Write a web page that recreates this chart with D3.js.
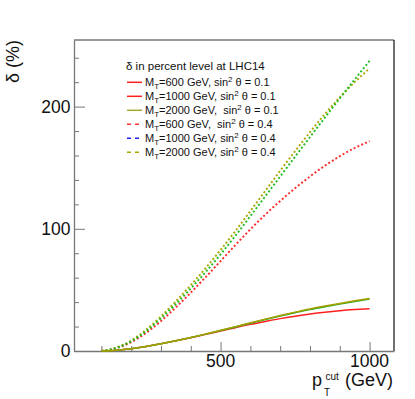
<!DOCTYPE html>
<html>
<head>
<meta charset="utf-8">
<script src="https://cdn.jsdelivr.net/npm/d3@7"></script>
<style>
body { margin: 0; background: #fff; }
text { font-family: "Liberation Sans", Arial, sans-serif; fill: #111; white-space: pre; }
</style>
</head>
<body>
<div id="chart"></div>
<script>
// pT cut values (GeV)
var ptCut = [100,150,200,250,300,350,400,450,500,550,600,650,700,750,800,850,900,950,1000];

// delta (%) , sin^2 theta = 0.1
var mt600s01  = [0,0.7,1.9,3.7,5.9,8.3,10.9,13.6,16.3,19.1,21.8,24.2,26.5,28.5,30.3,31.8,33.0,33.9,34.6];
var mt1000s01 = [0,0.7,1.9,3.7,5.9,8.4,11.0,13.8,16.7,19.7,22.75,25.75,28.65,31.35,33.95,36.25,38.45,40.55,42.55];
var mt2000s01 = [0,0.7,1.9,3.7,5.9,8.4,11.0,13.9,16.9,19.95,23.05,26.1,29.05,31.8,34.4,36.75,38.95,41.05,43.05];

// delta (%) , sin^2 theta = 0.4
var mt600s04  = [0,2.3,7.2,14.8,24.5,35.7,47.8,60.5,73.6,86.8,99.6,111.6,122.8,133.2,142.8,151.6,159.4,166.1,171.7];
var mt1000s04 = [0,2.5,8,16.2,26.7,38.5,51.2,64.7,79.1,94.4,110.4,126.6,142.8,159,175.1,191,206.7,222.2,237.5];
var mt2000s04 = [0,2.7,8.6,17.3,28.3,40.7,53.9,67.9,82.7,98.3,114.5,131,147.5,163.5,179.1,193.9,207.6,220,231.3];

var xTicksMajor = [500, 1000];
var yTicksMajor = [0, 100, 200];

var legendMass = ['600', '1000', '2000', '600', '1000', '2000'];
var legendSin  = ['0.1', '0.1', '0.1', '0.4', '0.4', '0.4'];

var width = 415, height = 399;
var padL = 74, padR = 394, padT = 40, padB = 351;

var x = d3.scaleLinear().domain([8, 1082]).range([padL, padR]);
var y = d3.scaleLinear().domain([0, 254.5]).range([padB, padT]);

var svg = d3.select('#chart').append('svg')
  .attr('width', width)
  .attr('height', height);

// frame
svg.append('line').attr('x1', padL).attr('x2', padR).attr('y1', padT).attr('y2', padT)
  .attr('stroke', '#777').attr('stroke-width', 1.3);
svg.append('line').attr('x1', padR).attr('x2', padR).attr('y1', padT).attr('y2', padB)
  .attr('stroke', '#222').attr('stroke-width', 1.3);

// axes, ticks pointing inward
var xAxis = d3.axisTop(x).tickValues(d3.range(100, 1001, 100)).tickSize(5).tickFormat('').tickSizeOuter(0);
var gx = svg.append('g').attr('transform', 'translate(0,' + padB + ')').call(xAxis);
gx.selectAll('.tick line').attr('y2', function(d) { return xTicksMajor.indexOf(d) >= 0 ? -9 : -5; });
var yAxis = d3.axisRight(y).tickValues(d3.range(0, 241, 20)).tickSize(5).tickFormat('').tickSizeOuter(0);
var gy = svg.append('g').attr('transform', 'translate(' + padL + ',0)').call(yAxis);
gy.selectAll('.tick line').attr('x2', function(d) { return yTicksMajor.indexOf(d) >= 0 ? 11 : 5; });
svg.selectAll('.domain').attr('stroke', '#777').attr('stroke-width', 1.3);
svg.selectAll('.tick line').attr('stroke', '#777').attr('stroke-width', 1);

// tick labels
svg.selectAll('.xlab').data(xTicksMajor).enter().append('text')
  .attr('x', function(d) { return x(d); })
  .attr('y', 367)
  .attr('text-anchor', 'middle')
  .style('font-size', '17.5px')
  .text(function(d) { return d; });
svg.selectAll('.ylab').data(yTicksMajor).enter().append('text')
  .attr('x', 70.5)
  .attr('y', function(d) { return y(d) + 6.3; })
  .attr('text-anchor', 'end')
  .style('font-size', '17.5px')
  .text(function(d) { return d; });

// axis titles
svg.append('text')
  .attr('transform', 'translate(19,40) rotate(-90)')
  .attr('text-anchor', 'end')
  .style('font-size', '18px')
  .text('\u03b4 (%)');
svg.append('text').attr('x', 312).attr('y', 386).style('font-size', '18px').text('p');
svg.append('text').attr('x', 325.5).attr('y', 380).style('font-size', '10px').text('cut');
svg.append('text').attr('x', 324).attr('y', 396).style('font-size', '10px').text('T');
svg.append('text').attr('x', 393).attr('y', 386).attr('text-anchor', 'end')
  .style('font-size', '18px').text('(GeV)');

// curves
var series = [
  { v: mt600s04,  color: '#ff2a2a', dash: '2,2.2' },
  { v: mt2000s04, color: '#a8a800', dash: '2,2.2' },
  { v: mt1000s04, color: '#22bb22', dash: '2,2.2' },
  { v: mt600s01,  color: '#ff2020', dash: null },
  { v: mt1000s01, color: '#22aa22', dash: null },
  { v: mt2000s01, color: '#a8a000', dash: null }
];

var line = d3.line()
  .x(function(d, i) { return x(ptCut[i]); })
  .y(function(d) { return y(d); })
  .curve(d3.curveMonotoneX);

svg.selectAll('.curve').data(series).enter().append('path')
  .attr('d', function(s) { return line(s.v); })
  .attr('fill', 'none')
  .attr('stroke', function(s) { return s.color; })
  .attr('stroke-width', function(s) { return s.dash ? 1.9 : 1.5; })
  .attr('stroke-dasharray', function(s) { return s.dash; });

// legend
var legColors = ['#ff2020', '#ff2020', '#a8a830', '#ff3030', '#2020ff', '#a8a800'];
svg.append('text').attr('x', 126).attr('y', 70).style('font-size', '11.5px')
  .text('\u03b4 in percent level at LHC14');

var leg = svg.selectAll('.leg').data(legendMass).enter().append('g')
  .attr('transform', function(d, i) { return 'translate(0,' + (82.3 + i * 14) + ')'; });
leg.append('line')
  .attr('x1', 127).attr('x2', 142).attr('y1', 0).attr('y2', 0)
  .attr('stroke', function(d, i) { return legColors[i]; })
  .attr('stroke-width', 1.5)
  .attr('stroke-dasharray', function(d, i) { return i >= 3 ? '4,4' : null; });
var lt = leg.append('text').attr('x', 145).attr('y', 4).style('font-size', '11px');
lt.append('tspan').text('M');
lt.append('tspan').attr('dy', 3).style('font-size', '8px').text('T');
lt.append('tspan').attr('dy', -3).text(function(d, i) {
  return '=' + d + ' GeV,' + (i === 2 || i === 3 ? '  ' : ' ') + 'sin';
});
lt.append('tspan').attr('dy', -4).style('font-size', '8px').text('2');
lt.append('tspan').attr('dy', 4).text(function(d, i) { return ' \u03b8 = ' + legendSin[i]; });
</script>
</body>
</html>
